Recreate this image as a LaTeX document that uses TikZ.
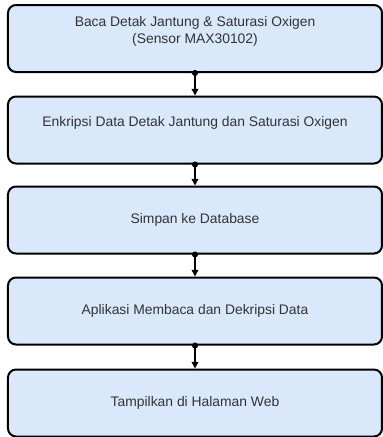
\documentclass[tikz,border=0pt]{standalone}
\usepackage{fontspec}
\setmainfont{Liberation Sans}
\usepackage{xcolor}
\definecolor{boxblue}{HTML}{DAE8FC}
\definecolor{txtgray}{HTML}{333333}
\usetikzlibrary{arrows.meta,positioning}

\begin{document}
\begin{tikzpicture}[
  x=0.75pt,y=-0.75pt,
  box/.style={draw,line width=1.5pt,rounded corners=6pt,fill=boxblue,
    minimum width=280.5pt,minimum height=50.25pt,align=center,
    text=txtgray,font=\fontsize{10.4}{12.5}\selectfont},
  hightext/.style={text depth=13pt},
  arr/.style={{Circle[length=4.5pt]}-{Triangle[length=5pt,width=5pt]},line width=1.1pt,black,
    shorten <=-2.25pt}
]
  \useasboundingbox (0,0) rectangle (383,437);
  \node[box,hightext] (baca) at (195,38.5) {Baca Detak Jantung \& Saturasi Oxigen\\(Sensor MAX30102)};
  \node[box,hightext] (enkripsi) at (195,130) {Enkripsi Data Detak Jantung dan Saturasi Oxigen};
  \node[box] (simpan) at (195,220) {Simpan ke Database};
  \node[box] (dekripsi) at (195,311) {Aplikasi Membaca dan Dekripsi Data};
  \node[box] (tampil) at (195,403) {Tampilkan di Halaman Web};
  % Arrows
  \draw[arr] (baca) -- (enkripsi);
  \draw[arr] (enkripsi) -- (simpan);
  \draw[arr] (simpan) -- (dekripsi);
  \draw[arr] (dekripsi) -- (tampil);
\end{tikzpicture}
\end{document}
